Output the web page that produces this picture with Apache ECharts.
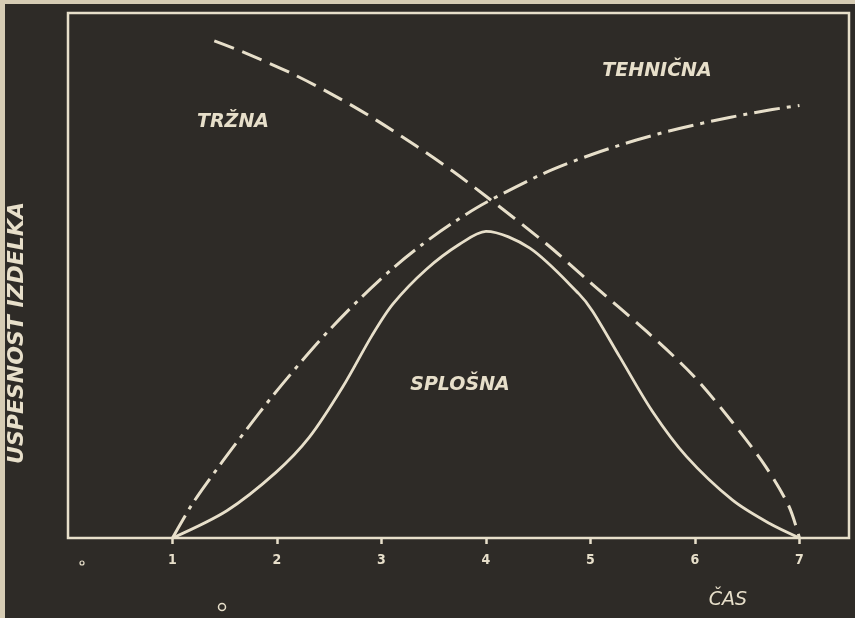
<!DOCTYPE html>
<html>
<head>
<meta charset="utf-8">
<script src="https://cdn.jsdelivr.net/npm/echarts@6/dist/echarts.min.js"></script>
<style>
html,body{margin:0;padding:0;background:#d6ccb4;}
#c{width:855px;height:618px;}
</style>
</head>
<body>
<div id="c"></div>
<script>
// ---- data (x = ČAS, y = USPEŠNOST in % of frame height) ----
var xTicks = [1, 2, 3, 4, 5, 6, 7];
var trznaX = [1.40, 1.66, 2.15, 2.60, 2.95, 3.33, 3.68, 4.00, 4.58, 4.99, 5.54, 5.98, 6.36, 6.68, 6.90, 7.00];
var trznaY = [94.7, 92.7, 88.4, 83.7, 79.6, 74.7, 69.9, 65.1, 56.0, 48.8, 39.3, 31.0, 22.0, 13.5, 6.0, 0.0];
var tehnicnaX = [1.00, 1.19, 1.45, 1.71, 1.96, 2.22, 2.50, 2.79, 3.11, 3.39, 3.68, 4.00, 4.58, 5.02, 5.44, 5.85, 6.33, 6.74, 7.00];
var tehnicnaY = [0.0, 6.5, 13.8, 20.7, 27.1, 33.3, 39.6, 45.5, 51.4, 55.9, 60.0, 63.9, 69.7, 73.1, 75.8, 78.0, 80.1, 81.6, 82.4];
var splosnaX = [1.00, 1.52, 1.99, 2.31, 2.63, 2.91, 3.11, 3.43, 3.75, 4.00, 4.42, 4.89, 5.02, 5.28, 5.59, 5.92, 6.36, 6.71, 7.00];
var splosnaY = [0.0, 5.2, 12.5, 19.2, 28.8, 38.6, 44.6, 51.2, 56.0, 58.4, 55.2, 46.5, 43.2, 34.5, 24.2, 15.5, 7.2, 2.8, 0.0];
var seriesNames = ['TRŽNA', 'TEHNIČNA', 'SPLOŠNA'];
var yAxisTitle = 'USPESNOST IZDELKA';
var xAxisTitle = 'ČAS';

function pairs(xs, ys) { return xs.map(function (x, i) { return [x, ys[i]]; }); }

var ink = '#e7dfca';
var bg = '#2e2b27';
var hand = "'DejaVu Sans', sans-serif";
var handC = "'DejaVu Sans Condensed', 'DejaVu Sans', sans-serif";

var chart = echarts.init(document.getElementById('c'));
chart.setOption({
  backgroundColor: '#d6ccb4',
  animation: false,
  grid: { left: 68, right: 6, top: 13, bottom: 80, show: true, borderColor: ink, borderWidth: 2.5, backgroundColor: 'transparent' },
  xAxis: {
    type: 'value', min: 0, max: 7.474,
    splitLine: { show: false },
    axisLine: { show: false },
    axisTick: { show: true, customValues: xTicks, length: 6, inside: false, lineStyle: { color: ink, width: 2.5 } },
    axisLabel: { show: true, customValues: xTicks, color: ink, fontFamily: handC, fontWeight: 'bold', fontSize: 14, margin: 15 }
  },
  yAxis: {
    type: 'value', min: 0, max: 100, show: false, splitLine: { show: false }
  },
  graphic: [
    { type: 'rect', z: -10, silent: true, shape: { x: 5, y: 4, width: 850, height: 614 }, style: { fill: bg } },
    { type: 'text', x: 233, y: 122, style: { text: seriesNames[0], fill: ink, font: "italic bold 19px " + hand, textAlign: 'center', textVerticalAlign: 'middle' } },
    { type: 'text', x: 657, y: 71, style: { text: seriesNames[1], fill: ink, font: "italic bold 19px " + hand, textAlign: 'center', textVerticalAlign: 'middle' } },
    { type: 'text', x: 460, y: 385, style: { text: seriesNames[2], fill: ink, font: "italic bold 19px " + hand, textAlign: 'center', textVerticalAlign: 'middle' } },
    { type: 'text', x: 728, y: 600, style: { text: xAxisTitle, fill: ink, font: "italic 19px " + hand, textAlign: 'center', textVerticalAlign: 'middle' } },
    { type: 'text', x: 17, y: 333, rotation: Math.PI / 2, style: { text: yAxisTitle, fill: ink, font: "italic bold 22px " + hand, textAlign: 'center', textVerticalAlign: 'middle' } },
    { type: 'circle', shape: { cx: 82, cy: 563, r: 2 }, style: { fill: 'none', stroke: ink, lineWidth: 1.2 } },
    { type: 'circle', shape: { cx: 222, cy: 607, r: 3.5 }, style: { fill: 'none', stroke: ink, lineWidth: 1.5 } }
  ],
  series: [
    { name: seriesNames[0], type: 'line', data: pairs(trznaX, trznaY), smooth: 0.3, showSymbol: false,
      lineStyle: { color: ink, width: 3, type: [21, 9], cap: 'butt' } },
    { name: seriesNames[1], type: 'line', data: pairs(tehnicnaX, tehnicnaY), smooth: 0.3, showSymbol: false,
      lineStyle: { color: ink, width: 3, type: [26, 7, 4, 7], cap: 'butt' } },
    { name: seriesNames[2], type: 'line', data: pairs(splosnaX, splosnaY), smooth: 0.3, showSymbol: false,
      lineStyle: { color: ink, width: 2.8 } }
  ]
});
</script>
</body>
</html>
